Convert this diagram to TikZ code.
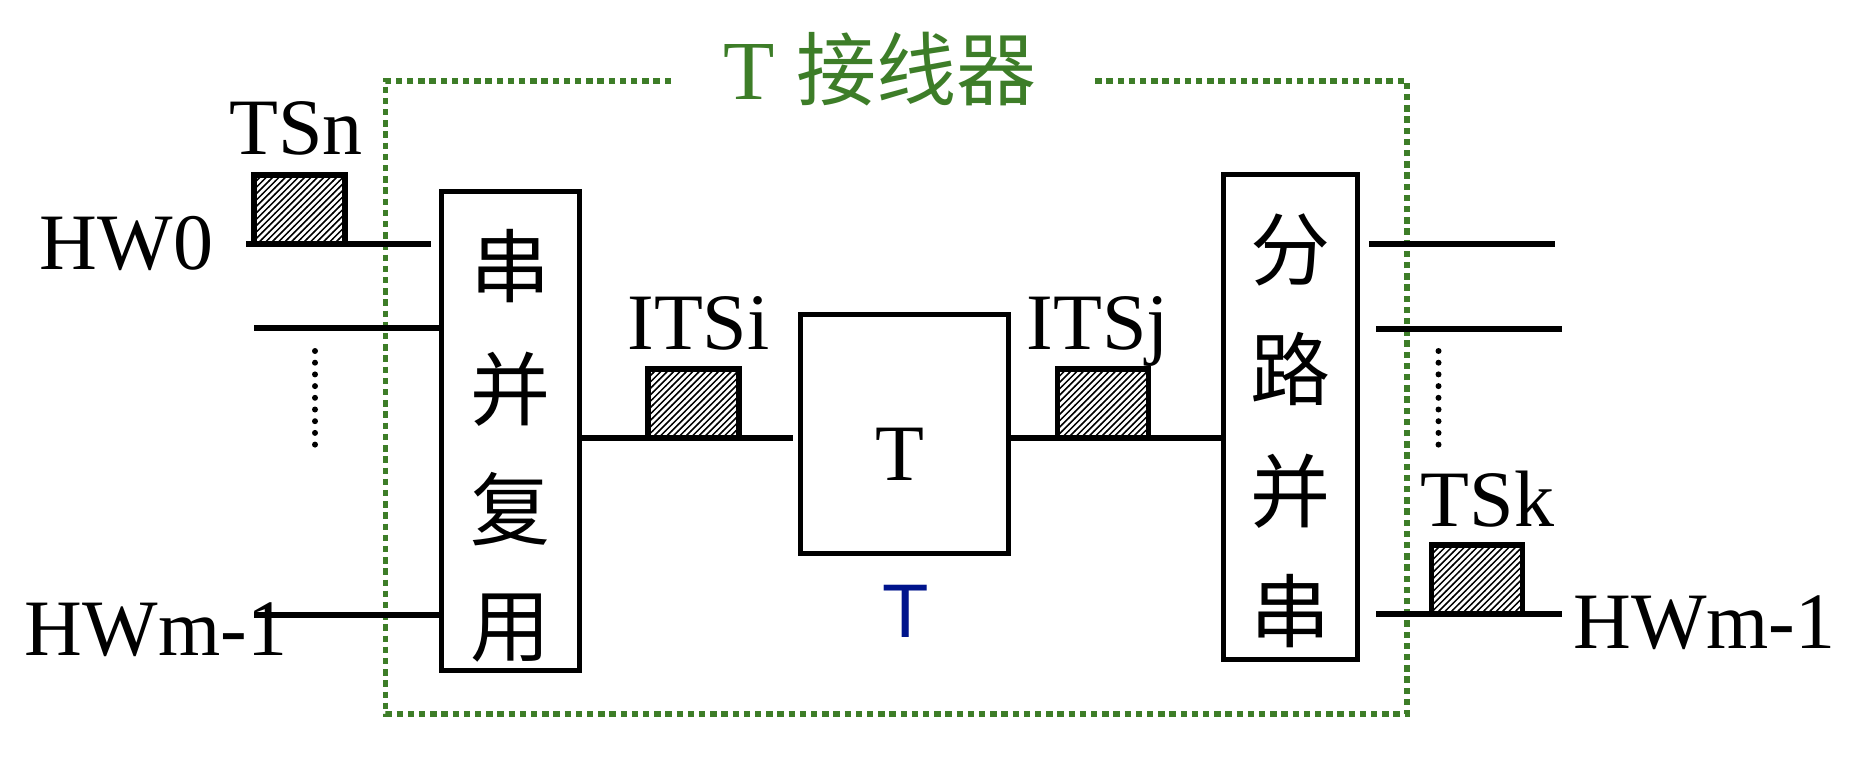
\documentclass[tikz,border=0pt]{standalone}
\usepackage{fontspec}
\setmainfont{Liberation Serif}
\newfontfamily\cjk{Noto Sans CJK SC}
\newfontfamily\sansf{Liberation Sans}
\usetikzlibrary{patterns}
\definecolor{tgreen}{RGB}{61,125,40}
\definecolor{tblue}{RGB}{0,20,140}
\pgfdeclarepatternformonly{hatch}{\pgfqpoint{-1pt}{-1pt}}{\pgfqpoint{4.2pt}{4.2pt}}{\pgfqpoint{3.2pt}{3.2pt}}%
{\pgfsetlinewidth{0.75pt}\pgfpathmoveto{\pgfqpoint{-0.1pt}{-0.1pt}}\pgfpathlineto{\pgfqpoint{3.3pt}{3.3pt}}\pgfusepath{stroke}}
\begin{document}
\begin{tikzpicture}[x=0.5pt,y=-0.5pt,
  wire/.style={line width=2.8pt},
  blk/.style={draw, line width=2.8pt, inner sep=0pt, outer sep=0pt},
  slot/.style={draw, line width=2.8pt, pattern=hatch, inner sep=0pt, outer sep=0pt,
    minimum width=45.5pt, minimum height=34.5pt},
  lbl/.style={font=\fontsize{40}{40}\selectfont, inner sep=0pt, anchor=base},
  cjkc/.style={font=\fontsize{40}{40}\selectfont\cjk, inner sep=0pt},
  dotcol/.style={line width=3pt, line cap=round, dash pattern=on 0pt off 5.85pt},
  frame/.style={draw=tgreen, line width=2.8pt, dash pattern=on 3.2pt off 2.4pt}
]
\useasboundingbox (0,0) rectangle (1862,770);

% green frame of the T switch
\draw[frame] (671,81) -- (385.5,81) -- (385.5,714) -- (1407,714) -- (1407,81) -- (1091,81);
\node[inner sep=0pt, anchor=base, text=tgreen] (title) at (880,100)
  {\fontsize{42}{42}\selectfont T\ {\cjk\fontsize{40}{40}\selectfont 接线器}};

% blocks
\node[blk, minimum width=69pt, minimum height=239.5pt] (mux) at (510.5,431) {};
\node[blk, minimum width=67pt, minimum height=242.5pt] (demux) at (1290.5,417) {};
\node[blk, minimum width=104pt, minimum height=119.5pt] (tbox) at (904.5,434) {};

\node[cjkc] (m1) at (510.5,266) {串};
\node[cjkc] (m2) at (510.5,389) {并};
\node[cjkc] (m3) at (510.5,509) {复};
\node[cjkc] (m4) at (510.5,628) {用};

\node[cjkc] (d1) at (1290.5,250) {分};
\node[cjkc] (d2) at (1290.5,369) {路};
\node[cjkc] (d3) at (1290.5,491) {并};
\node[cjkc] (d4) at (1290.5,611) {串};

\node[lbl] (tin) at (900,480) {T};
\node[inner sep=0pt, anchor=base, font=\fontsize{38}{38}\selectfont\sansf, text=tblue] (tlab) at (906,637) {T};

% input wires
\coordinate (hw0a) at (246,244);
\coordinate (hw0b) at (431,244);
\coordinate (in1) at (254,328);
\coordinate (in2) at (254,615);
\draw[wire] (hw0a) -- (hw0b);
\draw[wire] (in1) -- (in1 -| mux.west);
\draw[wire] (in2) -- (in2 -| mux.west);

% middle wires
\coordinate (ml) at (793,438);
\draw[wire] (ml -| mux.east) -- (ml);
\draw[wire] (ml -| tbox.east) -- (ml -| demux.west);

% output wires
\coordinate (r1a) at (1369,244);
\coordinate (r1b) at (1555,244);
\coordinate (r2a) at (1376,329);
\coordinate (r2b) at (1562,329);
\coordinate (r3a) at (1376,614);
\coordinate (r3b) at (1562,614);
\draw[wire] (r1a) -- (r1b);
\draw[wire] (r2a) -- (r2b);
\draw[wire] (r3a) -- (r3b);

% time slots
\node[slot] (tsn) at (299.5,209.5) {};
\node[slot] (itsi) at (693.5,403.75) {};
\node[slot] (itsj) at (1103,403.75) {};
\node[slot] (tsk) at (1477,579.75) {};

% dots
\coordinate (dl1) at (315,351);
\coordinate (dl2) at (315,456);
\coordinate (dr1) at (1438.5,351);
\coordinate (dr2) at (1438.5,456);
\draw[dotcol] (dl1) -- (dl2);
\draw[dotcol] (dr1) -- (dr2);

% labels
\node[lbl] (lhw0) at (126.5,270) {HW0};
\node[lbl] (ltsn) at (296,155) {TSn};
\node[lbl] (lhwl) at (156,655) {HWm-1};
\node[lbl] (litsi) at (698.5,349) {ITSi};
\node[lbl] (litsj) at (1098,349) {ITSj};
\node[lbl] (ltsk) at (1487.5,526) {TSk};
\node[lbl] (lhwr) at (1704.5,648) {HWm-1};
\end{tikzpicture}
\end{document}
